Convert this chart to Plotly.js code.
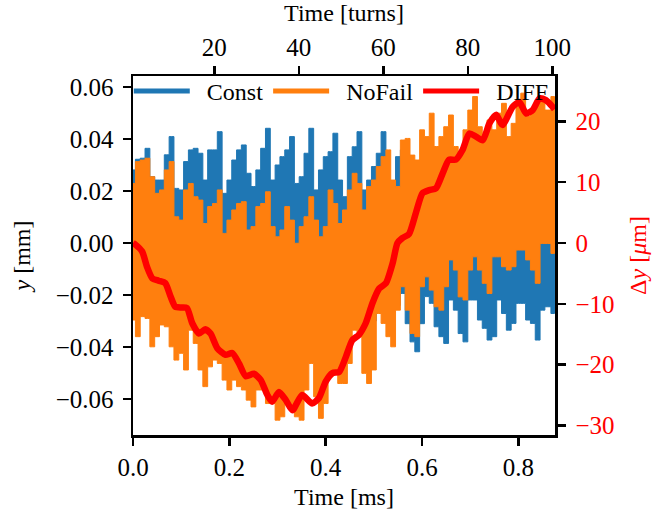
<!DOCTYPE html>
<html>
<head>
<meta charset="utf-8">
<script src="https://cdn.plot.ly/plotly-3.0.1.min.js"></script>
<style>html,body{margin:0;padding:0;background:#fff;}#chart{width:670px;height:512px;}</style>
</head>
<body>
<div id="chart"></div>
<script>
// time grid (ms) for the oscillation envelopes
const timeMs = [0,0.01,0.02,0.03,0.04,0.05,0.06,0.07,0.08,0.09,0.10,0.11,0.12,0.13,0.14,0.15,0.16,0.17,0.18,0.19,
0.20,0.21,0.22,0.23,0.24,0.25,0.26,0.27,0.28,0.29,0.30,0.31,0.32,0.33,0.34,0.35,0.36,0.37,0.38,0.39,
0.40,0.41,0.42,0.43,0.44,0.45,0.46,0.47,0.48,0.49,0.50,0.51,0.52,0.53,0.54,0.55,0.56,0.57,0.58,0.59,
0.60,0.61,0.62,0.63,0.64,0.65,0.66,0.67,0.68,0.69,0.70,0.71,0.72,0.73,0.74,0.75,0.76,0.77,0.78,0.79,
0.80,0.81,0.82,0.83,0.84,0.85,0.86,0.875];

// Const: upper / lower envelope of y [mm]
const constHi = [0.0281,0.0322,0.0326,0.0364,0.0255,0.0242,0.0242,0.0339,0.0409,0.0210,0.0204,0.0313,0.0358,0.0364,0.0345,0.0242,0.0358,0.0358,0.0428,0.0191,
0.0242,0.0319,0.0358,0.0377,0.0268,0.0217,0.0281,0.0364,0.0441,0.0242,0.0300,0.0332,0.0358,0.0409,0.0229,0.0255,0.0345,0.0441,0.0204,0.0281,
0.0332,0.0351,0.0422,0.0242,0.0178,0.0332,0.0370,0.0428,0.0204,0.0242,0.0294,0.0345,0.0428,0.0217,0.0191,0.0332,0.0358,0.0332,0.0281,0.0250,
0.0260,0.0250,0.0270,0.0250,0.0260,0.0270,0.0250,0.0260,0.0250,0.0270,0.0260,0.0250,0.0270,0.0250,0.0260,0.0270,0.0250,0.0260,0.0250,0.0270,
0.0260,0.0250,0.0270,0.0250,0.0260,0.0270,0.0250,0.0260];
const constLo = [-0.026,-0.026,-0.026,-0.026,-0.026,-0.026,-0.026,-0.026,-0.026,-0.030,-0.030,-0.030,-0.030,-0.030,-0.030,-0.030,-0.030,-0.030,-0.030,-0.030,
-0.030,-0.030,-0.030,-0.030,-0.030,-0.030,-0.030,-0.030,-0.030,-0.030,-0.030,-0.030,-0.030,-0.030,-0.030,-0.030,-0.030,-0.030,-0.030,-0.030,
-0.030,-0.030,-0.030,-0.030,-0.030,-0.030,-0.030,-0.030,-0.030,-0.030,-0.030,-0.025,-0.025,-0.025,-0.025,-0.024,-0.0194,-0.0310,-0.0380,-0.0418,
-0.0310,-0.0206,-0.0232,-0.0322,-0.0360,-0.0386,-0.0219,-0.0258,-0.0348,-0.0380,-0.0219,-0.0219,-0.0296,-0.0328,-0.0373,-0.0360,-0.0219,-0.0271,-0.0335,-0.0309,
-0.0232,-0.0232,-0.0296,-0.0309,-0.0373,-0.0258,-0.0245,-0.0271];

// NoFail: upper / lower envelope of y [mm]
const noFailHi = [0.0229,0.0313,0.0319,0.0326,0.0255,0.0191,0.0204,0.0281,0.0313,0.0101,0.0088,0.0204,0.0229,0.0178,0.0165,0.0075,0.0140,0.0152,0.0204,0.0037,
0.0088,0.0127,0.0152,0.0159,0.0050,0.0063,0.0140,0.0152,0.0197,0.0063,0.0024,0.0050,0.0140,0.0088,-0.0001,0.0063,0.0101,0.0178,0.0088,0.0024,
0.0063,0.0204,0.0152,0.0075,0.0127,0.0204,0.0268,0.0229,0.0127,0.0217,0.0242,0.0294,0.0332,0.0358,0.0242,0.0217,0.0396,0.0402,0.0338,0.0319,
0.0435,0.0409,0.0499,0.0371,0.0409,0.0447,0.0492,0.0371,0.0345,0.0435,0.0511,0.0563,0.0447,0.0409,0.0473,0.0435,0.0499,0.0537,0.0409,0.0460,
0.0537,0.0576,0.0486,0.0511,0.0537,0.0550,0.0511,0.0563];
const noFailLo = [-0.0296,-0.0360,-0.0283,-0.0290,-0.0399,-0.0360,-0.0315,-0.0322,-0.0399,-0.0450,-0.0424,-0.0488,-0.0335,-0.0386,-0.0488,-0.0552,-0.0476,-0.0450,-0.0463,-0.0527,
-0.0565,-0.0527,-0.0552,-0.0565,-0.0604,-0.0630,-0.0565,-0.0565,-0.0617,-0.0617,-0.0681,-0.0668,-0.0617,-0.0642,-0.0668,-0.0681,-0.0565,-0.0463,-0.0591,-0.0674,
-0.0617,-0.0514,-0.0501,-0.0540,-0.0540,-0.0463,-0.0335,-0.0360,-0.0501,-0.0540,-0.0488,-0.0271,-0.0309,-0.0360,-0.0399,-0.0258,-0.0168,-0.0258,-0.0348,-0.0360,
-0.0168,-0.0130,-0.0181,-0.0245,-0.0258,-0.0168,-0.0065,-0.0104,-0.0207,-0.0219,-0.0104,-0.0053,-0.0104,-0.0155,-0.0194,-0.0053,-0.0053,-0.0091,-0.0104,-0.0091,
-0.0027,-0.0027,-0.0065,-0.0104,-0.0155,-0.0002,-0.0002,-0.0040];

// DIFF [um] on the right axis
const diffTime = [0,0.004,0.019,0.029,0.040,0.053,0.067,0.078,0.088,0.102,0.112,0.123,0.137,0.150,0.161,0.175,0.192,0.206,0.220,0.234,
0.251,0.265,0.279,0.289,0.303,0.317,0.331,0.351,0.372,0.386,0.400,0.414,0.428,0.442,0.455,0.469,0.483,0.497,0.511,0.525,
0.539,0.549,0.559,0.573,0.587,0.601,0.615,0.629,0.643,0.656,0.670,0.684,0.698,0.712,0.726,0.740,0.754,0.767,0.788,0.802,
0.816,0.830,0.844,0.857,0.871,0.875];
const diffUm = [0,-0.2,-1.4,-3.9,-5.8,-6.2,-6.6,-8.8,-10.5,-10.6,-10.7,-13.2,-14.9,-14.2,-14.9,-17.3,-18.4,-18.1,-19.8,-21.9,
-21.5,-22.5,-25.0,-26.1,-24.5,-25.8,-27.5,-25.0,-26.4,-25.5,-22.8,-21.4,-21.2,-18.7,-16.0,-15.1,-13.2,-9.9,-7.5,-6.6,
-3.3,0,0.8,1.5,4.9,8.2,8.7,9.0,11.5,13.7,13.7,15.3,18.0,17.5,16.9,19.7,21.1,19.4,22.4,23.2,
21.3,21.9,23.8,23.5,22.4,22.0];

const seriesNames = ['Const', 'NoFail', 'DIFF'];
const xTicks = [0, 0.2, 0.4, 0.6, 0.8];
const turnTicks = [20, 40, 60, 80, 100];
const yTicks = [-0.06, -0.04, -0.02, 0, 0.02, 0.04, 0.06];
const y2Ticks = [-30, -20, -10, 0, 10, 20];

const BLUE = '#1f77b4', ORANGE = '#ff7f0e', RED = '#ff0000';
const FONT = 'Liberation Serif, Times New Roman, serif';

function band(hi, lo, color) {
  const rt = timeMs.slice().reverse();
  return {
    x: timeMs.concat(rt),
    y: hi.concat(lo.slice().reverse()),
    type: 'scatter', mode: 'lines', fill: 'toself',
    fillcolor: color, line: {color: color, width: 1, shape: 'hvh'},
    showlegend: false, hoverinfo: 'skip', xaxis: 'x', yaxis: 'y'
  };
}

function legendEntry(name, color) {
  return {x: [null], y: [null], type: 'scatter', mode: 'lines', name: '\u2002' + name,
          line: {color: color, width: 5}, xaxis: 'x2', yaxis: 'y'};
}

const traces = [
  band(constHi, constLo, BLUE),
  band(noFailHi, noFailLo, ORANGE),
  {x: diffTime, y: diffUm, type: 'scatter', mode: 'lines',
   line: {color: RED, width: 6.5, shape: 'spline', smoothing: 0.6},
   showlegend: false, xaxis: 'x', yaxis: 'y2'},
  legendEntry(seriesNames[0], BLUE),
  legendEntry(seriesNames[1], ORANGE),
  legendEntry(seriesNames[2], RED)
];

const axBase = {
  showgrid: false, zeroline: false, showline: true, linecolor: '#000', linewidth: 2.5,
  ticks: 'outside', ticklen: 8, tickwidth: 2.5, tickcolor: '#000',
  tickfont: {family: FONT, size: 25, color: '#000'}
};

const layout = {
  width: 670, height: 512,
  margin: {l: 133, r: 115, t: 76, b: 77},
  paper_bgcolor: '#fff', plot_bgcolor: '#fff',
  font: {family: FONT, size: 24, color: '#000'},
  xaxis: Object.assign({}, axBase, {
    range: [0, 0.876], tickmode: 'array', tickvals: xTicks, tickformat: '.1f',
    title: {text: 'Time [ms]', font: {family: FONT, size: 24}, standoff: 9}
  }),
  xaxis2: Object.assign({}, axBase, {
    overlaying: 'x', side: 'top', anchor: 'y', range: [0.76, 100.64],
    tickmode: 'array', tickvals: turnTicks,
    title: {text: 'Time [turns]', font: {family: FONT, size: 24}, standoff: 6}
  }),
  yaxis: Object.assign({}, axBase, {
    range: [-0.0738, 0.0642], tickmode: 'array', tickvals: yTicks, tickformat: '.2f',
    ticklabelstandoff: 4,
    title: {text: '<i>y</i> [mm]', font: {family: FONT, size: 24}, standoff: 18}
  }),
  yaxis2: Object.assign({}, axBase, {
    overlaying: 'y', side: 'right', anchor: 'x', range: [-31.58, 27.47],
    tickmode: 'array', tickvals: y2Ticks, ticklabelstandoff: 5,
    tickfont: {family: FONT, size: 25, color: RED},
    title: {text: 'Δ<i>y</i> [<i>μ</i>m]', font: {family: FONT, size: 24, color: RED}, standoff: 16}
  }),
  showlegend: true,
  legend: {
    orientation: 'h', x: -0.01, y: 1.02, xanchor: 'left', yanchor: 'top',
    bgcolor: 'rgba(0,0,0,0)', borderwidth: 0,
    font: {family: FONT, size: 24, color: '#000'},
    itemwidth: 56, tracegroupgap: 0
  }
};

Plotly.newPlot('chart', traces, layout, {staticPlot: true, displayModeBar: false});
</script>
</body>
</html>
